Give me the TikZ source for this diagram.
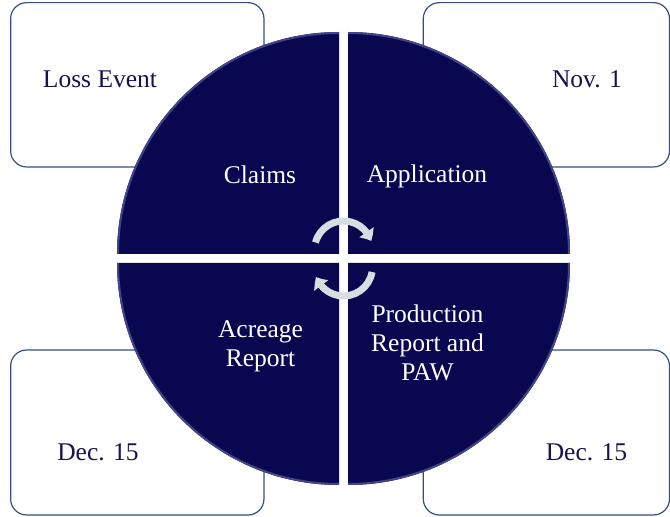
\documentclass[tikz,border=0pt]{standalone}
\usepackage{fontspec}
\setmainfont{Liberation Serif}
\usepackage{tikz}
\usetikzlibrary{arrows.meta,%
                bending}
\definecolor{pienavy}{RGB}{9,7,80}
\definecolor{pieedge}{RGB}{66,68,136}
\definecolor{boxline}{RGB}{52,80,130}
\definecolor{boxtext}{RGB}{20,20,80}
\definecolor{cyclegray}{RGB}{214,222,226}

\begin{document}
\begin{tikzpicture}[x=1pt,y=1pt]
		\tikzstyle{DateBox}=[draw=boxline,line width=1.2pt,rounded corners=16pt,fill=white,inner sep=0pt,outer sep=0pt]
		\tikzstyle{DateText}=[text=boxtext,font=\fontsize{25.5}{29}\selectfont,anchor=base]
		\tikzstyle{StepText}=[text=white,font=\fontsize{25.5}{29}\selectfont,align=center]
		\tikzstyle{Quarter}=[fill=pienavy]
		\tikzstyle{Rim}=[draw=pieedge,line width=2pt]
		\tikzstyle{Cycle}=[draw=cyclegray,line width=7pt,-{Triangle[width=17pt,length=10pt,bend]}]
		\useasboundingbox (0,0) rectangle (670,517);
		% date boxes, behind the pie
		\node[DateBox,minimum width=253.3pt,minimum height=164.3pt] (LossBox) at (137.3,432.2) {};
		\node[DateBox,minimum width=246.2pt,minimum height=164.3pt] (NovBox) at (546.4,432.2) {};
		\node[DateBox,minimum width=253.3pt,minimum height=165pt] (AcreBox) at (137.3,84.5) {};
		\node[DateBox,minimum width=246.2pt,minimum height=165pt] (ProdBox) at (546.4,84.5) {};
		\node[DateText] (LossText) at (100,429) {Loss Event};
		\node[DateText] (NovText) at (587,429) {Nov. 1};
		\node[DateText] (AcreDate) at (98,56) {Dec. 15};
		\node[DateText] (ProdDate) at (586.5,56) {Dec. 15};
		% the four quarters
		\coordinate (Hub) at (343.5,258.5);
		\foreach \dx/\dy/\a in {-4.5/4.5/90,4.5/4.5/0,-4.5/-4.5/180,4.5/-4.5/270}{
			\fill[Quarter] ([shift={(\dx,\dy)}]Hub) -- ++(\a:222) arc[start angle=\a,end angle=\a+90,radius=222] -- cycle;
			\draw[Rim] ([shift={(\dx,\dy)}]Hub) ++(\a:221) arc[start angle=\a,end angle=\a+90,radius=221];
		}
		\node[StepText,anchor=base] (Claims) at (260,333) {Claims};
		\node[StepText,anchor=base] (Application) at (427,334) {Application};
		\node[StepText] (Acreage) at (260.5,171) {Acreage\\Report};
		\node[StepText] (Production) at (427.5,174.5) {Production\\Report and\\PAW};
		% cycle arrows in the middle
		\coordinate (TopHub) at (343.5,267);
		\coordinate (LowHub) at (343.5,250);
		\draw[Cycle] ([shift={(165:29)}]TopHub) arc[start angle=165,end angle=18,radius=29];
		\draw[Cycle] ([shift={(350:29)}]LowHub) arc[start angle=350,end angle=200,radius=29];
	\end{tikzpicture}
\end{document}
